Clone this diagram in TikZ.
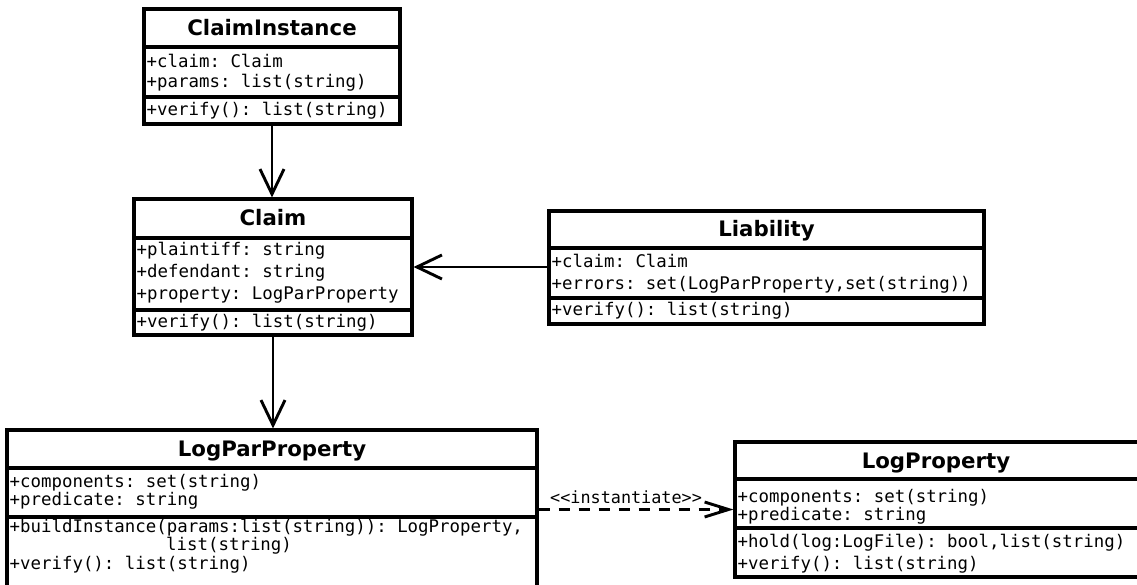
\documentclass[tikz,border=0pt]{standalone}
\usepackage{fontspec}
\setmainfont{DejaVu Sans}
\setmonofont{DejaVu Sans Mono}
\usetikzlibrary{arrows.meta}
\tikzset{
  cls/.style={draw, line width=3.1pt, rectangle, inner sep=0pt, fill=white},
  divider/.style={line width=3.1pt},
  ttl/.style={font=\bfseries\fontsize{21.3}{24}\selectfont, inner sep=0pt, anchor=base},
  mono/.style={font=\ttfamily\fontsize{17.4}{20}\selectfont, inner sep=0pt, anchor=base west},
  lbl/.style={font=\ttfamily\fontsize{16.8}{20}\selectfont, inner sep=0pt, anchor=base west},
  assoc/.style={line width=2.9pt, -{Straight Barb[length=25pt,width=24pt]}},
  dep/.style={line width=2.9pt, dash pattern=on 11pt off 9pt, -{Straight Barb[length=24pt,width=15pt]}}
}
\begin{document}
\begin{tikzpicture}[x=1pt,y=-1pt]
\useasboundingbox (0,0) rectangle (1137,585);
\clip (0,0) rectangle (1137,585);
% ClaimInstance: 144-400, 9-124
\node[cls, minimum width=256pt, minimum height=115pt] (ci) at (272,66.5) {};
\draw[divider] (ci.west |- 0,47) -- (ci.east |- 0,47);
\draw[divider] (ci.west |- 0,97) -- (ci.east |- 0,97);
\node[ttl] (cit) at (272,35.5) {ClaimInstance};
\node[mono] (ci1) at (146.5,67.5) {+claim: Claim};
\node[mono] (ci2) at (146.5,87.5) {+params: list(string)};
\node[mono] (ci3) at (146.5,115.5) {+verify(): list(string)};
% Claim: 134-412, 199-335
\node[cls, minimum width=278pt, minimum height=136pt] (claim) at (273,267) {};
\draw[divider] (claim.west |- 0,238) -- (claim.east |- 0,238);
\draw[divider] (claim.west |- 0,310) -- (claim.east |- 0,310);
\node[ttl] (clt) at (273,226) {Claim};
\node[mono] (cl1) at (136.5,255.5) {+plaintiff: string};
\node[mono] (cl2) at (136.5,277) {+defendant: string};
\node[mono] (cl3) at (136.5,299) {+property: LogParProperty};
\node[mono] (cl4) at (136.5,327) {+verify(): list(string)};
% Liability: 549-984, 211-324
\node[cls, minimum width=435pt, minimum height=113pt] (liab) at (766.5,267.5) {};
\draw[divider] (liab.west |- 0,248) -- (liab.east |- 0,248);
\draw[divider] (liab.west |- 0,298) -- (liab.east |- 0,298);
\node[ttl] (lit) at (766.5,237) {Liability};
\node[mono] (li1) at (551.5,267) {+claim: Claim};
\node[mono] (li2) at (551.5,289) {+errors: set(LogParProperty,set(string))};
\node[mono] (li3) at (551.5,315.5) {+verify(): list(string)};
% LogParProperty: 7-537, 430-600
\node[cls, minimum width=530pt, minimum height=170pt] (lpp) at (272,515) {};
\draw[divider] (lpp.west |- 0,468) -- (lpp.east |- 0,468);
\draw[divider] (lpp.west |- 0,517) -- (lpp.east |- 0,517);
\node[ttl] (lppt) at (272,456.5) {LogParProperty};
\node[mono] (lpp1) at (9.5,487) {+components: set(string)};
\node[mono] (lpp2) at (9.5,505.5) {+predicate: string};
\node[mono] (lpp3) at (9.5,532) {+buildInstance(params:list(string)): LogProperty,};
\node[mono] (lpp4) at (166,550) {list(string)};
\node[mono] (lpp5) at (9.5,569) {+verify(): list(string)};
% LogProperty: 735-1150, 442-577
\node[cls, minimum width=415pt, minimum height=135pt] (lp) at (942.5,509.5) {};
\draw[divider] (lp.west |- 0,479) -- (lp.east |- 0,479);
\draw[divider] (lp.west |- 0,528) -- (lp.east |- 0,528);
\node[ttl] (lpt) at (936,468) {LogProperty};
\node[mono] (lp1) at (737.5,502) {+components: set(string)};
\node[mono] (lp2) at (737.5,520.5) {+predicate: string};
\node[mono] (lp3) at (737.5,547) {+hold(log:LogFile): bool,list(string)};
\node[mono] (lp4) at (737.5,569) {+verify(): list(string)};
% connectors
\draw[assoc] (ci.south) -- (ci.south |- claim.north);
\draw[assoc] (claim.south) -- (claim.south |- lpp.north);
\draw[assoc] (liab.west |- claim.center) -- (claim.east);
\draw[dep] (lpp.east |- lp.center) -- (lp.west);
\node[lbl] (inst) at (550,503) {<\kern0pt<instantiate>\kern0pt>};
\end{tikzpicture}
\end{document}
